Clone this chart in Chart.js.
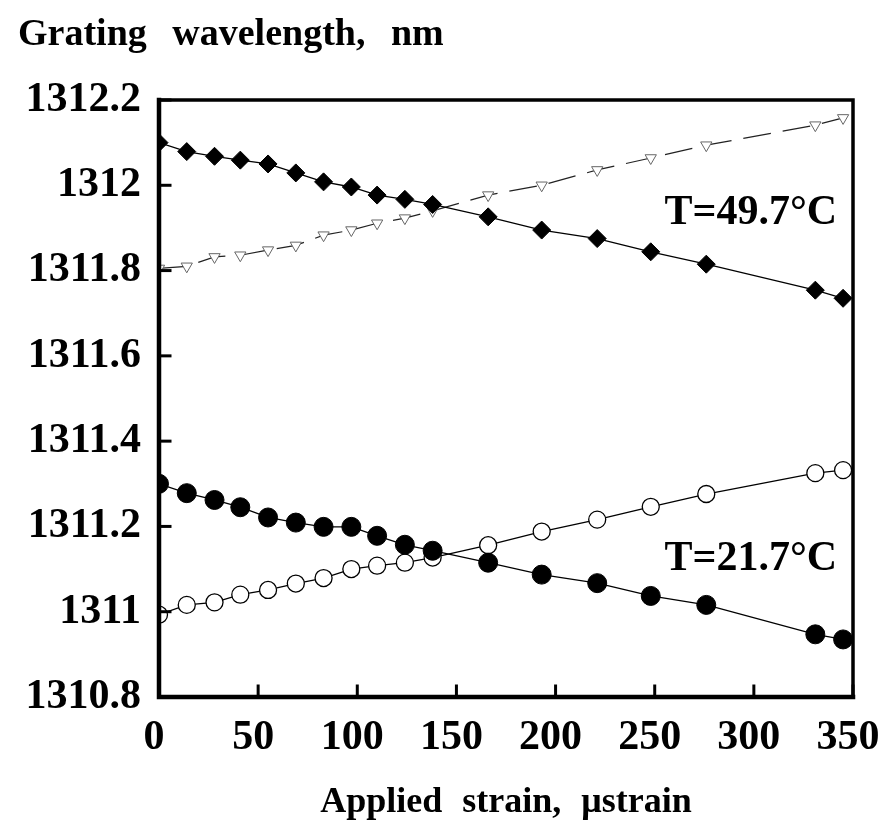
<!DOCTYPE html>
<html><head><meta charset="utf-8">
<script src="https://cdn.jsdelivr.net/npm/chart.js@4/dist/chart.umd.min.js"></script>
<style>
html,body{margin:0;padding:0;background:#fff;}
#wrap{position:relative;width:890px;height:827px;}
#title{position:absolute;left:18px;top:10px;font:bold 38px 'Liberation Serif',serif;word-spacing:16px;color:#000;white-space:pre;}
canvas{position:absolute;left:0;top:0;}
</style></head><body>
<div id="wrap"><canvas id="c" width="890" height="827"></canvas><div id="title">Grating wavelength, nm</div></div>
<script>
// Applied strain (µstrain)
const strain = [0,14,28,41,55,69,83,97,110,124,138,166,193,221,248,276,331,345];
// T = 49.7 °C
const hotFilled = [1312.100,1312.079,1312.068,1312.059,1312.050,1312.029,1312.008,1311.996,1311.977,1311.967,1311.955,1311.926,1311.895,1311.875,1311.844,1311.815,1311.754,1311.735];
const hotOpen   = [1311.805,1311.810,1311.832,1311.836,1311.848,1311.859,1311.883,1311.895,1311.911,1311.923,1311.940,1311.977,1312.000,1312.036,1312.064,1312.094,1312.141,1312.158];
// T = 21.7 °C
const coldFilled = [1311.300,1311.278,1311.262,1311.245,1311.221,1311.209,1311.199,1311.199,1311.178,1311.157,1311.143,1311.115,1311.087,1311.067,1311.037,1311.016,1310.947,1310.935];
const coldOpen   = [1310.993,1311.016,1311.022,1311.040,1311.051,1311.066,1311.079,1311.100,1311.108,1311.115,1311.127,1311.156,1311.188,1311.216,1311.246,1311.276,1311.325,1311.332];
const xTicksStep = 50;
const yTicksStep = 0.2;
const labels = [
  {text:'T=49.7°C', x:342, y:1311.935},
  {text:'T=21.7°C', x:342, y:1311.124}
];

const pts = arr => strain.map((s,i)=>({x:s,y:arr[i]}));
const FONT = "'Liberation Serif','Times New Roman',serif";

const framePlugin = {
  id:'frame',
  beforeDraw(chart){ chart.ctx.wordSpacing = '11px'; },
  afterDraw(chart){
    const {ctx, chartArea:a, scales:{x,y}} = chart;
    ctx.save();
    ctx.strokeStyle='#000';
    ctx.lineCap='square';
    ctx.lineWidth=3;
    y.ticks.forEach(t=>{const py=y.getPixelForValue(t.value);ctx.beginPath();ctx.moveTo(a.left,py);ctx.lineTo(a.left+11,py);ctx.stroke();});
    x.ticks.forEach(t=>{const px=x.getPixelForValue(t.value);ctx.beginPath();ctx.moveTo(px,a.bottom);ctx.lineTo(px,a.bottom-11);ctx.stroke();});
    ctx.lineWidth=3.5;
    ctx.strokeRect(a.left,a.top,a.right-a.left,a.bottom-a.top);
    ctx.lineWidth=4.5;
    ctx.beginPath();ctx.moveTo(a.left,a.top);ctx.lineTo(a.left,a.bottom);ctx.lineTo(a.right,a.bottom);ctx.stroke();
    ctx.fillStyle='#000';
    ctx.font='bold 42px '+FONT;
    ctx.textAlign='right';ctx.textBaseline='middle';
    labels.forEach(l=>ctx.fillText(l.text,x.getPixelForValue(l.x),y.getPixelForValue(l.y)));
    ctx.restore();
  }
};

const line = {borderColor:'#000',borderWidth:1.3,tension:0,showLine:true};
new Chart(document.getElementById('c'),{
  type:'scatter',
  data:{datasets:[
    Object.assign({label:'49.7 °C filled',data:pts(hotFilled),pointStyle:'rectRot',pointRadius:9,pointBackgroundColor:'#000',pointBorderColor:'#000',pointBorderWidth:1},line),
    Object.assign({label:'49.7 °C open',data:pts(hotOpen),pointStyle:'triangle',rotation:180,pointRadius:6.5,pointBackgroundColor:'#fff',pointBorderColor:'#666',pointBorderWidth:1,borderDash:[28,12],borderColor:'#222'},{borderWidth:1.2,tension:0,showLine:true}),
    Object.assign({label:'21.7 °C filled',data:pts(coldFilled),pointStyle:'circle',pointRadius:9.5,pointBackgroundColor:'#000',pointBorderColor:'#000',pointBorderWidth:1},line),
    Object.assign({label:'21.7 °C open',data:pts(coldOpen),pointStyle:'circle',pointRadius:8.5,pointBackgroundColor:'#fff',pointBorderColor:'#000',pointBorderWidth:1.3},line)
  ]},
  options:{
    responsive:false,animation:false,
    layout:{padding:{top:100,right:37,left:0,bottom:0}},
    plugins:{legend:{display:false},tooltip:{enabled:false}},
    scales:{
      x:{type:'linear',min:0,max:350,
        ticks:{stepSize:xTicksStep,padding:16,labelOffset:-5,color:'#000',font:{family:FONT,size:42,weight:'bold'}},
        grid:{display:false,drawTicks:false},border:{display:false},
        title:{display:true,text:'Applied strain, μstrain',color:'#000',font:{family:FONT,size:36,weight:'bold'},padding:{top:0,bottom:3}},
        afterFit(s){s.height=130;s.paddingLeft=0;s.paddingRight=0;}},
      y:{type:'linear',min:1310.8,max:1312.2,
        ticks:{stepSize:yTicksStep,padding:18,color:'#000',font:{family:FONT,size:42,weight:'bold'},
          callback:v=>{const s=(+v).toFixed(1);return s.endsWith('.0')?s.slice(0,-2):s;}},
        grid:{display:false,drawTicks:false},border:{display:false},
        afterFit(s){s.width=159;s.paddingTop=0;s.paddingBottom=0;}}
    }
  },
  plugins:[framePlugin]
});
</script>
</body></html>
